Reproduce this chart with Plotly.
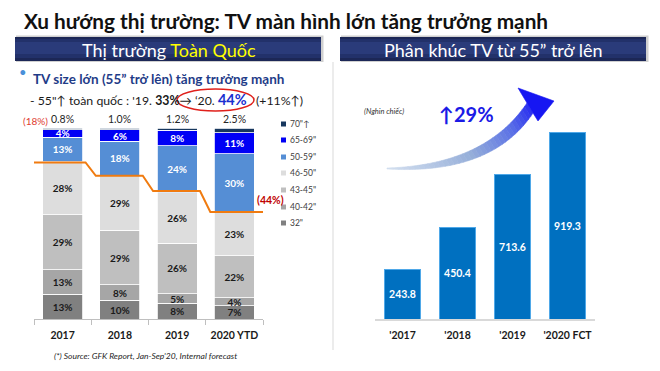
import plotly.graph_objects as go
import numpy as np

W, H = 660, 371


def px(x):
    return x / W


def py(y):
    return 1 - y / H


# ---------------- data ----------------
years_left = ["2017", "2018", "2019", "2020 YTD"]
seg_names = ['32"', '40-42"', '43-45"', '46-50"', '50-59"', '65-69"', '70"↑']
seg_32 = [13, 10, 8, 7]
seg_40_42 = [13, 8, 5, 4]
seg_43_45 = [29, 29, 26, 22]
seg_46_50 = [28, 29, 26, 23]
seg_50_59 = [13, 18, 24, 30]
seg_65_69 = [4, 6, 8, 11]
seg_70_up = [0.8, 1.0, 1.2, 2.5]
share_55_up = [18, 25, 33, 44]

years_right = ["'2017", "'2018", "'2019", "'2020 FCT"]
units_55_up = [243.8, 450.4, 713.6, 919.3]   # thousand units

seg_values = [seg_32, seg_40_42, seg_43_45, seg_46_50, seg_50_59, seg_65_69, seg_70_up]
seg_colors = ["#808080", "#A6A6A6", "#BFBFBF", "#DDDDDD", "#558ED5", "#0000F5", "#17375E"]
seg_text_colors = ["#1a1a1a", "#1a1a1a", "#1a1a1a", "#1a1a1a", "white", "white", "white"]

FONT = "Lato, 'Open Sans', sans-serif"

fig = go.Figure()

# ---------------- left stacked chart ----------------
xs = list(range(len(years_left)))
totals = [sum(s[i] for s in seg_values) for i in xs]
for name, vals, col, tcol in zip(seg_names, seg_values, seg_colors, seg_text_colors):
    norm = [v / t * 100 for v, t in zip(vals, totals)]
    show_text = name != '70"↑'
    fig.add_trace(go.Bar(
        x=xs, y=norm, name=name, width=0.7,
        marker=dict(color=col, line=dict(color="white", width=0.8)),
        text=[f"<b>{v:g}%</b>" for v in vals] if show_text else None,
        textposition="inside", insidetextanchor="middle",
        textfont=dict(family=FONT, size=10, color=tcol),
        hoverinfo="skip", showlegend=False,
        xaxis="x", yaxis="y",
    ))

# step line for 55"+ share boundary
line_x, line_y = [], []
n = len(share_55_up)
for k, s in enumerate(share_55_up):
    left = -0.62 if k == 0 else k - 0.42
    right = 3.52 if k == n - 1 else k + 0.40
    line_x += [left, right]
    line_y += [100 - s, 100 - s]
fig.add_trace(go.Scatter(
    x=line_x, y=line_y, mode="lines",
    line=dict(color="#F07B10", width=2),
    hoverinfo="skip", showlegend=False, cliponaxis=False,
    xaxis="x", yaxis="y",
))

# ---------------- right bar chart ----------------
xr = list(range(len(years_right)))
fig.add_trace(go.Bar(
    x=xr, y=units_55_up, width=0.67,
    marker=dict(color="#0070C0", line=dict(color="#4FA8E8", width=1)),
    text=[f"<b>{v:.1f}</b>" for v in units_55_up],
    textposition="inside", insidetextanchor="middle",
    textfont=dict(family=FONT, size=10.5, color="white"),
    hoverinfo="skip", showlegend=False,
    xaxis="x2", yaxis="y2",
))

# ---------------- shapes ----------------
shapes = []


def prect(x0, y0, x1, y1, color, layer="below"):
    shapes.append(dict(type="rect", xref="paper", yref="paper", layer=layer,
                       x0=px(x0), x1=px(x1), y0=py(y1), y1=py(y0), opacity=1,
                       fillcolor=color, line=dict(width=0)))


for (bx0, bx1) in [(15, 321), (340, 646)]:
    prect(bx0 + 1, 35.5, bx1 + 2.5, 62, "#D0D0D0")
    prect(bx0, 37, bx1, 61, "#1C2756")
    prect(bx0, 39, bx1, 58, "#22316A")
    prect(bx0, 42, bx1, 54, "#2A3B7A")

# vertical separator between the two panels
prect(332.5, 62, 333.5, 350, "#D9D9D9")


# decorative curved gradient arrow, built from thin coloured slices
def qbez(p0, p1, p2, t):
    x = (1 - t) ** 2 * p0[0] + 2 * (1 - t) * t * p1[0] + t ** 2 * p2[0]
    y = (1 - t) ** 2 * p0[1] + 2 * (1 - t) * t * p1[1] + t ** 2 * p2[1]
    return x, y


def hex2rgb(h):
    h = h.lstrip("#")
    return [int(h[i:i + 2], 16) for i in (0, 2, 4)]


grad_stops = [(0.0, "#D3DFEF"), (0.45, "#95AED9"), (0.75, "#5A70E6"), (1.0, "#1616F2")]


def grad_color(t):
    for (t0, c0), (t1, c1) in zip(grad_stops[:-1], grad_stops[1:]):
        if t <= t1:
            f = (t - t0) / (t1 - t0)
            a, b = hex2rgb(c0), hex2rgb(c1)
            return "rgb(%d,%d,%d)" % tuple(round(a[i] + (b[i] - a[i]) * f) for i in range(3))
    return grad_stops[-1][1]


def ppath(pts):
    return "M " + " L ".join(f"{px(x):.5f},{py(y):.5f}" for x, y in pts) + " Z"


N_SLICES = 36
ts = np.linspace(0, 1, N_SLICES + 1)
for i in range(N_SLICES):
    tt = np.linspace(ts[i], ts[i + 1], 4)
    ux, uy = qbez((387, 168), (485, 165), (527, 103), tt)
    lx, ly = qbez((387, 169), (492, 175), (533, 113), tt)
    pts = list(zip(ux, uy)) + list(zip(lx[::-1], ly[::-1]))
    col = grad_color((ts[i] + ts[i + 1]) / 2 * 0.93)
    shapes.append(dict(type="path", xref="paper", yref="paper", path=ppath(pts), opacity=1,
                       fillcolor=col, line=dict(color=col, width=0.6)))
head_col = grad_color(1.0)
shapes.append(dict(type="path", xref="paper", yref="paper", opacity=1,
                   path=ppath([(527, 103), (518, 88), (554, 101), (538, 121), (533, 113)]),
                   fillcolor=head_col, line=dict(color=head_col, width=0.6)))

# ---------------- annotations ----------------
ann = []


def add_text(x, y, text, size, color="#1a1a1a", xanchor="left", yanchor="middle", family=FONT):
    ann.append(dict(x=px(x), y=py(y), xref="paper", yref="paper", text=text,
                    showarrow=False, xanchor=xanchor, yanchor=yanchor,
                    font=dict(family=family, size=size, color=color)))


add_text(22, 20, "<b>Xu hướng thị trường: TV màn hình lớn tăng trưởng mạnh</b>", 20.8, "#111111")
add_text(169, 50, "Thị trường <span style='color:#FFFF00'>Toàn Quốc</span>", 18, "white", "center")
add_text(493, 50, "Phân khúc TV từ 55” trở lên", 18, "white", "center")

add_text(23, 72, "•", 13, "#4A90D9", "center")
add_text(31, 79, "<b>TV size lớn (55” trở lên) tăng trưởng mạnh</b>", 13.5, "#1F3C88")
add_text(28, 99, "- 55\"↑ toàn quốc : '19. <b>33%</b>→ ‘20. "
         "<b><span style='color:#1A2FD0;font-size:14.5px'>44%</span></b>   (+11%↑)", 12.3, "#1a1a1a")

# top labels for 70"↑
for k, v in enumerate(seg_70_up):
    ann.append(dict(x=k, y=100, xref="x", yref="y", text=f"{v:.1f}%", showarrow=False,
                    yanchor="bottom", yshift=1,
                    font=dict(family=FONT, size=10.5, color="#262626")))
add_text(35, 121, "(18%)", 10, "#E03C31", "center")
add_text(270, 200, "<b>(44%)</b>", 10.5, "#C00000", "center")

# legend
leg_y = [124, 140, 157, 173, 190, 207, 223]
for yy, name, col in zip(leg_y, seg_names[::-1], seg_colors[::-1]):
    shapes.append(dict(type="rect", xref="paper", yref="paper", opacity=1,
                       x0=px(281), x1=px(286), y0=py(yy + 2.5), y1=py(yy - 2.5),
                       fillcolor=col, line=dict(width=0)))
    add_text(288, yy, name, 8.5, "#404040")

add_text(52, 356, "<i>(*) Source: GFK Report, Jan-Sep'20, Internal forecast</i>", 8.5, "#262626")

add_text(362, 111, "<i>(Nghin chiếc)</i>", 7.5, "#333333")
add_text(437, 114, "<b>↑29%</b>", 20, "#1A1AE6")

# red ellipse around '20 44%
shapes.append(dict(type="circle", xref="paper", yref="paper", opacity=1,
                   x0=px(177), x1=px(254), y0=py(111), y1=py(89),
                   fillcolor="rgba(0,0,0,0)",
                   line=dict(color="#E0201B", width=1.5)))

# ---------------- layout ----------------
left_pxpu = 1.91  # pixels per percent
fig.update_layout(
    width=W, height=H,
    margin=dict(l=0, r=0, t=0, b=0),
    paper_bgcolor="white", plot_bgcolor="white",
    barmode="stack", bargap=0.3,
    uniformtext=dict(minsize=10, mode="show"),
    font=dict(family=FONT),
    xaxis=dict(domain=[px(34), px(263)], range=[-0.5, 3.5],
               tickvals=xs, ticktext=[f"<b>{y}</b>" for y in years_left],
               tickfont=dict(family=FONT, size=10.5, color="#1a1a1a"),
               showgrid=False, zeroline=False, showline=True, linecolor="#BFBFBF", linewidth=1,
               ticks="", ticklabelstandoff=6,
               minor=dict(tickvals=[-0.5, 0.5, 1.5, 2.5, 3.5], ticks="outside",
                          ticklen=5, tickcolor="#BFBFBF", showgrid=False),
               fixedrange=True),
    yaxis=dict(domain=[py(319), py(105)], range=[0, (319 - 105) / left_pxpu],
               visible=False, fixedrange=True),
    xaxis2=dict(domain=[px(375), px(595)], range=[-0.5, 3.5], anchor="y2",
                tickvals=xr, ticktext=[f"<b>{y}</b>" for y in years_right],
                tickfont=dict(family=FONT, size=10.5, color="#1a1a1a"),
                showgrid=False, zeroline=False, showline=True, linecolor="#D9D9D9", linewidth=1.5,
                ticks="", ticklabelstandoff=6, fixedrange=True),
    yaxis2=dict(domain=[py(319), py(100)], range=[0, (319 - 100) / 0.2025], anchor="x2",
                visible=False, fixedrange=True),
    annotations=ann,
    shapes=shapes,
)

fig.write_html(
    "out.html",
    config={"displayModeBar": False, "staticPlot": True},
    post_script="document.body.style.margin='0';document.body.style.overflow='hidden';",
)
